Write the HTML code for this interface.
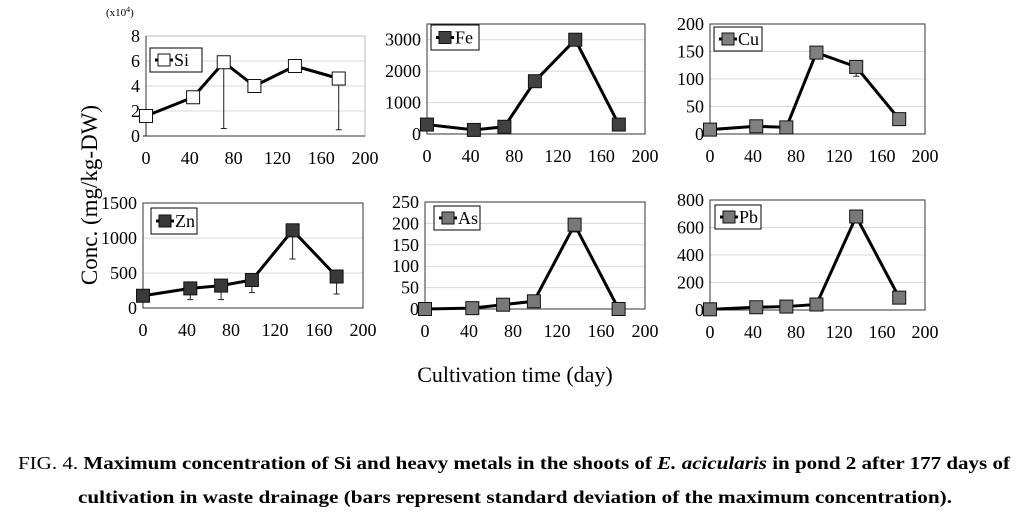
<!DOCTYPE html>
<html><head><meta charset="utf-8">
<style>
body{margin:0;background:#fff;}
svg{display:block;font-family:"Liberation Serif",serif;}
</style></head>
<body>
<svg id="c" width="1028" height="528" viewBox="0 0 1028 528">
<text x="97" y="195" font-size="23" text-anchor="middle" transform="rotate(-90 97 195)">Conc. (mg/kg-DW)</text>
<text x="515" y="382" font-size="22" text-anchor="middle">Cultivation time (day)</text>
<text x="106" y="16" font-size="11">(x10<tspan font-size="8" dy="-4">4</tspan><tspan dy="4">)</tspan></text>
<text x="18" y="469" font-size="18" textLength="992" lengthAdjust="spacingAndGlyphs">FIG. 4. <tspan font-weight="bold">Maximum concentration of Si and heavy metals in the shoots of <tspan font-style="italic">E. acicularis</tspan> in pond 2 after 177 days of</tspan></text>
<text x="78" y="503" font-size="18" font-weight="bold" textLength="874" lengthAdjust="spacingAndGlyphs">cultivation in waste drainage (bars represent standard deviation of the maximum concentration).</text>
</svg>
<script>
const days = [0, 43, 71, 99, 136, 176];
const xTicks = [0, 40, 80, 120, 160, 200];
const siValues = [1.6, 3.1, 5.9, 4.0, 5.6, 4.6];
const siErrLow = [0, null, 0.6, null, null, 0.5];
const feValues = [300, 130, 230, 1680, 3000, 300];
const feErrLow = [null, null, null, null, null, null];
const cuValues = [8, 14, 12, 148, 122, 27];
const cuErrLow = [null, null, null, null, 105, null];
const znValues = [175, 280, 320, 400, 1110, 450];
const znErrLow = [null, 120, 120, 220, 700, 200];
const asValues = [0, 2, 10, 18, 197, 0];
const asErrLow = [null, null, null, null, 180, null];
const pbValues = [5, 20, 25, 40, 680, 90];
const pbErrLow = [null, null, null, null, 640, null];
const siTicks = [0, 2, 4, 6, 8];
const feTicks = [0, 1000, 2000, 3000];
const cuTicks = [0, 50, 100, 150, 200];
const znTicks = [0, 500, 1000, 1500];
const asTicks = [0, 50, 100, 150, 200, 250];
const pbTicks = [0, 200, 400, 600, 800];

const NS = "http://www.w3.org/2000/svg";
const svg = document.getElementById('c');
function mk(tag, attrs, parent){const e=document.createElementNS(NS,tag);for(const k in attrs)e.setAttribute(k,attrs[k]);(parent||svg).appendChild(e);return e;}

const panels = [
 {id:'si', name:'Si', vals:siValues, err:siErrLow, ticks:siTicks, ymax:8, x0:146, x1:365, y0:36, y1:136, fill:'#ffffff', lg:[150,48,52,24], frame:false},
 {id:'fe', name:'Fe', vals:feValues, err:feErrLow, ticks:feTicks, ymax:3500, x0:427, x1:645, y0:24, y1:134, fill:'#404040', lg:[431,25,48,25], frame:true},
 {id:'cu', name:'Cu', vals:cuValues, err:cuErrLow, ticks:cuTicks, ymax:200, x0:710, x1:925, y0:24, y1:134, fill:'#808080', lg:[714,27,48,24], frame:true},
 {id:'zn', name:'Zn', vals:znValues, err:znErrLow, ticks:znTicks, ymax:1500, x0:143, x1:363, y0:203, y1:308, fill:'#383838', lg:[151,208,46,26], frame:true},
 {id:'as', name:'As', vals:asValues, err:asErrLow, ticks:asTicks, ymax:250, x0:425, x1:645, y0:202, y1:309, fill:'#787878', lg:[434,206,46,24], frame:true},
 {id:'pb', name:'Pb', vals:pbValues, err:pbErrLow, ticks:pbTicks, ymax:800, x0:710, x1:925, y0:200, y1:310, fill:'#787878', lg:[715,205,46,24], frame:true}
];

panels.forEach(p=>{
  const g = mk('g',{});
  
  
  const X = d => p.x0 + (d/200)*(p.x1-p.x0);
  const Y = v => p.y1 - (v/p.ymax)*(p.y1-p.y0);
  p.ticks.forEach(t=>{
    if(t>0 && t<p.ymax){
      const l=mk('line',{x1:p.x0,x2:p.x1,y1:Y(t),y2:Y(t),stroke:'#d8d8d8','stroke-width':1},g);
      
      
    }
    const tx=mk('text',{x:p.x0-6,y:Y(t)+6,'font-size':18,'text-anchor':'end'},g);
    tx.textContent=t;
    
    
  });
  xTicks.forEach(t=>{
    const tx=mk('text',{x:X(t),y:p.y1+28,'font-size':18,'text-anchor':'middle'},g);
    tx.textContent=t;
    
    
  });
  const fr=mk('rect',{x:p.x0,y:p.y0,width:p.x1-p.x0,height:p.y1-p.y0,fill:'none',stroke:p.frame?'#333':'#bbb','stroke-width':1},g);
  
  
  const ax=mk('line',{x1:p.x0,x2:p.x0,y1:p.y0,y2:p.y1,stroke:'#333'},g);
  
  
  const bx=mk('line',{x1:p.x0,x2:p.x1,y1:p.y1,y2:p.y1,stroke:'#333'},g);
  
  
  p.err.forEach((e,i)=>{
    if(e===null) return;
    const x=X(days[i]);
    const el=mk('line',{x1:x,x2:x,y1:Y(p.vals[i]),y2:Y(e),stroke:'#222','stroke-width':1},g);
    
    
    const cap=mk('line',{x1:x-3,x2:x+3,y1:Y(e),y2:Y(e),stroke:'#222','stroke-width':1},g);
    
    
  });
  const pts=p.vals.map((v,i)=>X(days[i])+','+Y(v)).join(' ');
  const pl=mk('polyline',{points:pts,fill:'none',stroke:'#000','stroke-width':3},g);
  
  
  p.vals.forEach((v,i)=>{
    const m=mk('rect',{x:X(days[i])-6.5,y:Y(v)-6.5,width:13,height:13,fill:p.fill,stroke:'#111','stroke-width':1},g);
    
    
  });
  const [lx,ly,lw,lh]=p.lg;
  const lg=mk('g',{},g);
  
  
  mk('rect',{x:lx,y:ly,width:lw,height:lh,fill:'#fff',stroke:'#000','stroke-width':1},lg);
  mk('line',{x1:lx+5,x2:lx+23,y1:ly+lh/2,y2:ly+lh/2,stroke:'#000','stroke-width':3},lg);
  mk('rect',{x:lx+8,y:ly+lh/2-6,width:12,height:12,fill:p.fill,stroke:'#111'},lg);
  const lt=mk('text',{x:lx+24,y:ly+lh/2+6,'font-size':18},lg);
  lt.textContent=p.name;
});
</script>
</body></html>
